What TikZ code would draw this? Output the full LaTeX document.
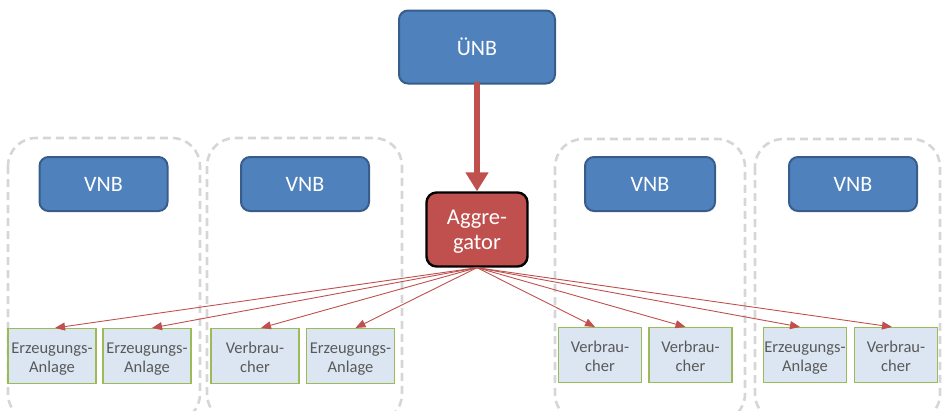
\documentclass[tikz,border=0pt]{standalone}
\usepackage{fontspec}
\setmainfont{Carlito}
\usetikzlibrary{arrows.meta}

\definecolor{netblue}{HTML}{4F81BD}
\definecolor{netblueedge}{HTML}{385D8A}
\definecolor{aggred}{HTML}{C0504D}
\definecolor{unitfill}{HTML}{DCE6F2}
\definecolor{unitedge}{HTML}{9BBB59}
\definecolor{unittext}{HTML}{595959}
\definecolor{groupgray}{HTML}{D6D6D6}

\tikzset{
  operator/.style={draw=netblueedge, line width=2pt, fill=netblue, rounded corners=9pt,
    text=white, inner sep=0pt, font=\fontsize{22}{26}\selectfont},
  aggbox/.style={draw=black, line width=2.4pt, fill=aggred, rounded corners=10pt,
    text=white, inner sep=0pt, align=center, text height=44pt, text depth=4pt,
    font=\fontsize{22.5}{25}\selectfont},
  unit/.style={draw=unitedge, line width=1.1pt, fill=unitfill, text=unittext,
    minimum height=55pt, inner sep=0pt, align=center, text height=34pt, text depth=2pt,
    font=\fontsize{16.5}{19}\selectfont},
  groupframe/.style={draw=groupgray, line width=2.6pt, dash pattern=on 8pt off 5pt,
    rounded corners=28pt},
  feed/.style={draw=aggred, line width=0.9pt, -{Triangle[length=10pt,width=8pt]}},
  mainfeed/.style={draw=aggred, line width=6.5pt, line cap=round,
    -{Triangle[length=19pt,width=22pt]}}
}

\begin{document}
\begin{tikzpicture}[x=1pt,y=-1pt]
  \useasboundingbox (0,0) rectangle (942,410);
  \clip (0,0) rectangle (942,410);

  % dashed regions of the four distribution grids
  \draw[groupframe] (8,138) rectangle (200,422);
  \draw[groupframe] (207,138) rectangle (402,422);
  \draw[groupframe] (555,139) rectangle (745,422);
  \draw[groupframe] (755,139) rectangle (940,422);

  % transmission operator and aggregator
  \node[operator, minimum width=156pt, minimum height=73pt] (unb) at (477,47) {ÜNB};
  \node[aggbox, minimum width=101pt, minimum height=74pt] (agg) at (477,229.5) {Aggre-\\gator};

  % distribution operators
  \node[operator, minimum width=128pt, minimum height=54pt] (vnb1) at (103.5,184) {VNB};
  \node[operator, minimum width=128pt, minimum height=54pt] (vnb2) at (305,184) {VNB};
  \node[operator, minimum width=130pt, minimum height=54pt] (vnb3) at (650,184) {VNB};
  \node[operator, minimum width=128pt, minimum height=54pt] (vnb4) at (853,184) {VNB};

  % plants and consumers
  \node[unit, minimum width=88pt] (u1) at (52,356) {Erzeugungs-\\Anlage};
  \node[unit, minimum width=88pt] (u2) at (147,356) {Erzeugungs-\\Anlage};
  \node[unit, minimum width=88pt] (u3) at (255,356) {Verbrau-\\cher};
  \node[unit, minimum width=88pt] (u4) at (350.5,356) {Erzeugungs-\\Anlage};
  \node[unit, minimum width=83pt] (u5) at (600,355) {Verbrau-\\cher};
  \node[unit, minimum width=83pt] (u6) at (690.5,355) {Verbrau-\\cher};
  \node[unit, minimum width=83pt] (u7) at (805,355) {Erzeugungs-\\Anlage};
  \node[unit, minimum width=83pt] (u8) at (896,355) {Verbrau-\\cher};

  % control connections
  \draw[mainfeed] (unb.south) -- (agg.north);
  \draw[feed] (agg.south) -- ([xshift=3pt]u1.north);
  \draw[feed] (agg.south) -- ([xshift=5pt]u2.north);
  \draw[feed] (agg.south) -- ([xshift=6pt]u3.north);
  \draw[feed] (agg.south) -- ([xshift=5pt]u4.north);
  \draw[feed] (agg.south) -- ([xshift=-5pt]u5.north);
  \draw[feed] (agg.south) -- ([xshift=-5pt]u6.north);
  \draw[feed] (agg.south) -- ([xshift=-5pt]u7.north);
  \draw[feed] (agg.south) -- ([xshift=-4pt]u8.north);
\end{tikzpicture}
\end{document}
